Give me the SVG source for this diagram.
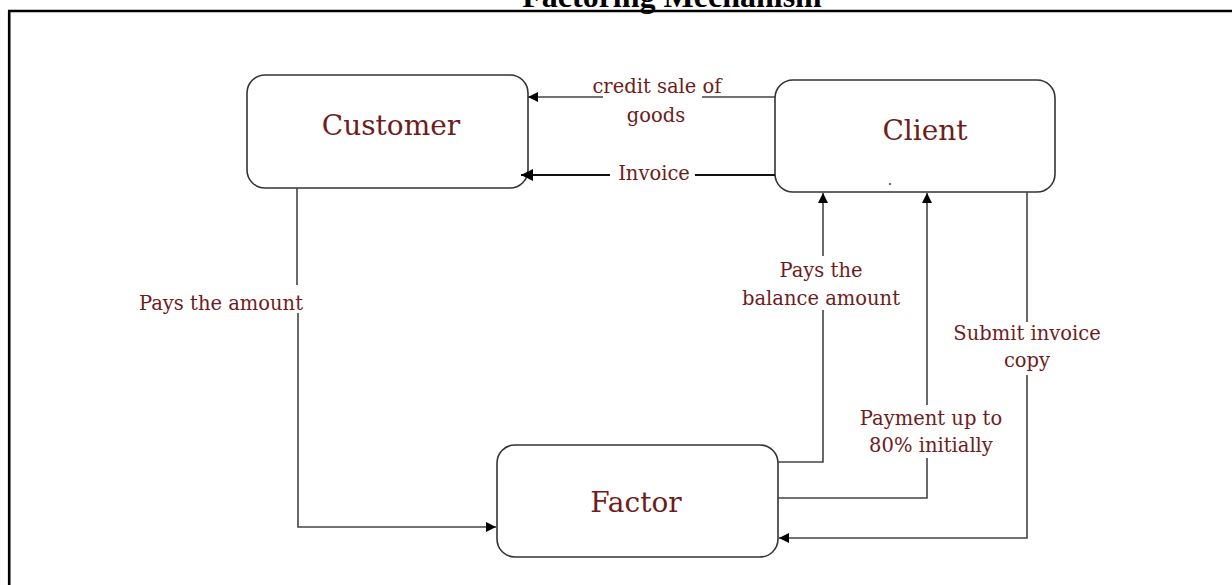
<svg xmlns="http://www.w3.org/2000/svg" width="1232" height="585" viewBox="0 0 1232 585">
<style>
.box{fill:#fff;stroke:#333;stroke-width:1.6}
.nt{font-family:"DejaVu Serif",serif;font-size:28px;fill:#6e1c1c;text-anchor:middle}
.lb{font-family:"DejaVu Serif",serif;font-size:19.5px;fill:#6e1c1c;text-anchor:middle}
.ln{fill:none;stroke:#444;stroke-width:1.6}
.title{font-family:"Liberation Serif",serif;font-weight:bold;font-size:32px;fill:#000;text-anchor:middle}
</style>
<defs>
<marker id="ah" viewBox="0 0 10 10" refX="10" refY="5" markerWidth="11" markerHeight="10" orient="auto" markerUnits="userSpaceOnUse">
<path d="M0,0 L10,5 L0,10 z" fill="#000"/>
</marker>
<marker id="ah2" viewBox="0 0 10 10" refX="10" refY="5" markerWidth="12" markerHeight="12" orient="auto" markerUnits="userSpaceOnUse">
<path d="M0,0 L10,5 L0,10 z" fill="#000"/>
</marker>
</defs>
<rect width="1232" height="585" fill="#fff"/>
<text class="title" x="672" y="6.5">Factoring Mechanism</text>
<path d="M8,11 H1232 M9.2,11 V585" fill="none" stroke="#000" stroke-width="2.6"/>

<g id="customer">
<rect class="box" x="247" y="75" width="281" height="113" rx="18"/>
<text class="nt" x="391" y="135">Customer</text>
</g>
<g id="client">
<rect class="box" x="775" y="80" width="280" height="112" rx="18"/>
<text class="nt" x="925" y="140">Client</text>
<circle cx="890" cy="184" r="1" fill="#333"/>
</g>
<g id="factor">
<rect class="box" x="497" y="445" width="281" height="112" rx="18"/>
<text class="nt" x="636" y="512">Factor</text>
</g>

<g id="connectors">
<path class="ln" d="M775,97 H702"/>
<path class="ln" d="M603,97 H528" marker-end="url(#ah)"/>
<path fill="none" stroke="#111" stroke-width="2.2" d="M775,175 H695"/>
<path fill="none" stroke="#111" stroke-width="2.2" d="M610,175 H521" marker-end="url(#ah2)"/>
<path class="ln" d="M297,188 V285"/>
<path class="ln" d="M298,313 V527 H496" marker-end="url(#ah)"/>
<path class="ln" d="M778,462 H823 V310"/>
<path class="ln" d="M823,256 V193" marker-end="url(#ah)"/>
<path class="ln" d="M778,498 H927 V458"/>
<path class="ln" d="M927,405 V193" marker-end="url(#ah)"/>
<path class="ln" d="M1027,192 V322"/>
<path class="ln" d="M1027,375 V538 H779" marker-end="url(#ah)"/>
</g>

<g id="labels">
<text class="lb" x="657" y="93">credit sale of</text>
<text class="lb" x="656" y="122">goods</text>
<text class="lb" x="654" y="180">Invoice</text>
<text class="lb" x="221" y="310">Pays the amount</text>
<text class="lb" x="821" y="277">Pays the</text>
<text class="lb" x="821" y="305">balance amount</text>
<text class="lb" x="931" y="425">Payment up to</text>
<text class="lb" x="931" y="452">80% initially</text>
<text class="lb" x="1027" y="340">Submit invoice</text>
<text class="lb" x="1027" y="367">copy</text>
</g>
</svg>
